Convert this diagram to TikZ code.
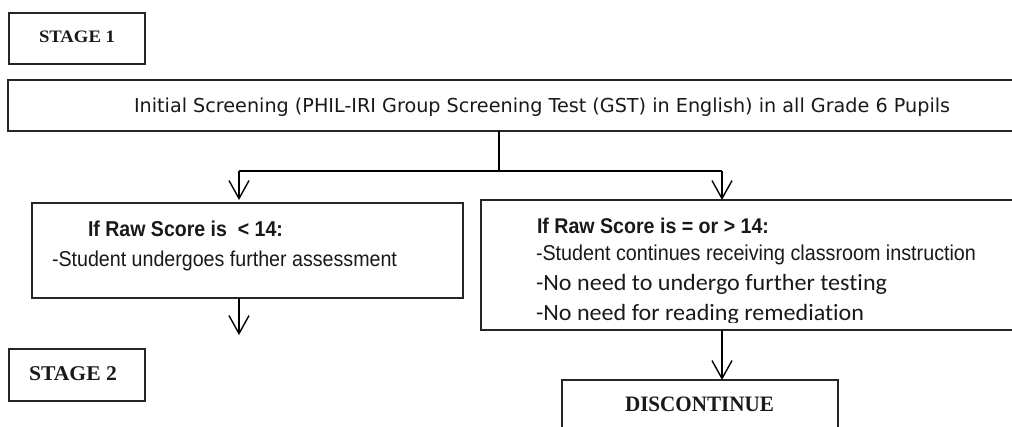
\documentclass[tikz,border=0pt]{standalone}
\usepackage{fontspec}
\usepackage{graphicx}
\usetikzlibrary{arrows.meta}
\newfontfamily\tnrfont{Liberation Serif}
\newfontfamily\tahfont{DejaVu Sans}
\newfontfamily\narfont{Liberation Sans}
\newfontfamily\calfont[Ligatures={NoCommon,NoDiscretionary}]{Carlito}
\newcommand\fitw[2]{\resizebox{#1pt}{\height}{#2}}
\newcommand\fsz[1]{\fontsize{#1pt}{#1pt}\selectfont}
\begin{document}
\begin{tikzpicture}[x=1pt,y=-1pt,
  box/.style={draw=black!85, line width=1.2pt, inner sep=0pt, outer sep=0pt},
  txt/.style={anchor=base west, inner sep=0pt, outer sep=0pt, text=black!90},
  conn/.style={draw=black, line width=1.4pt},
  arr/.style={conn, -{Straight Barb[length=18pt,width=20pt,line width=1.4pt]}}]
\useasboundingbox (0,0) rectangle (1012,426);
\clip (0,0) rectangle (1012,426);
% boxes
\node[box, minimum width=136pt, minimum height=51pt] (s1) at (77,38.5) {};
\node[box, minimum width=1022pt, minimum height=51pt] (main) at (519,105.5) {};
\node[box, minimum width=431pt, minimum height=95pt] (lbox) at (247.5,250.5) {};
\node[box, minimum width=549pt, minimum height=130pt] (rbox) at (755.5,265) {};
\node[box, minimum width=136pt, minimum height=52pt] (s2) at (77,375) {};
\node[box, minimum width=276pt, minimum height=60pt] (disc) at (700,410) {};
% texts
\node[txt] (t1) at (39,42.7) {\fitw{76}{\fsz{17.5}\tnrfont\bfseries STAGE 1}};
\node[txt] (t0) at (134,112.3) {\fitw{816}{\fsz{19.2}\tahfont Initial Screening (PHIL-IRI Group Screening Test (GST) in English) in all Grade 6 Pupils}};
\node[txt] (l1) at (88,236) {\fitw{195}{\fsz{21.5}\narfont\bfseries If Raw Score is \ < 14:}};
\node[txt] (l2) at (52,266.7) {\fitw{345}{\fsz{21.5}\narfont -Student undergoes further assessment}};
\node[txt] (r1) at (537,233.3) {\fitw{232}{\fsz{21.3}\narfont\bfseries If Raw Score is = or > 14:}};
\node[txt] (r2) at (536,260) {\fitw{440}{\fsz{21.5}\narfont -Student continues receiving classroom instruction}};
\node[txt] (r3) at (536,290) {\fitw{351}{\fsz{23.3}\calfont -No need to undergo further testing}};
\begin{scope}
\clip (482,298) rectangle (1012,322.5);
\node[txt] (r4) at (536,320) {\fitw{328}{\fsz{23.3}\calfont -No need for reading remediation}};
\end{scope}
\node[txt] (t2) at (29,380) {\fitw{88}{\fsz{21}\tnrfont\bfseries STAGE 2}};
\node[txt] (td) at (625,411.7) {\fitw{149}{\fsz{22}\tnrfont\bfseries DISCONTINUE}};
% connectors
\coordinate (j) at (499,171);
\coordinate (jl) at (239,171);
\coordinate (jr) at (722,171);
\coordinate (ldown) at (239,335);
\draw[conn] (main.south -| j) -- (j);
\draw[conn] (jl) -- (jr);
\draw[arr, shorten >=3pt] (jl) -- (lbox.north -| jl);
\draw[arr] (jr) -- (rbox.north -| jr);
\draw[arr] (lbox.south -| jl) -- (ldown);
\draw[arr] (rbox.south -| jr) -- (disc.north -| jr);
\end{tikzpicture}
\end{document}
